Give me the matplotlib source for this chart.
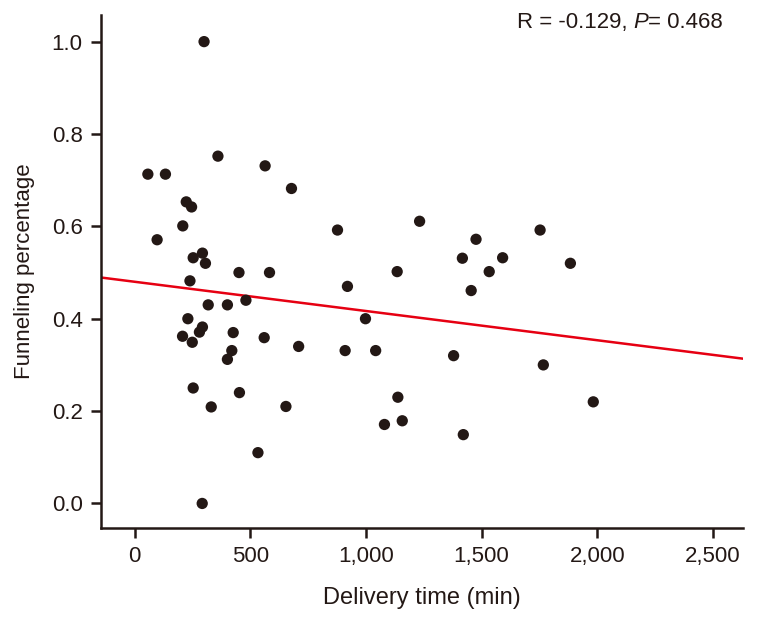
import matplotlib.pyplot as plt
import matplotlib.ticker as mticker
import numpy as np

# delivery time (min) and funneling percentage
delivery_time = [300, 57, 133, 360, 564, 678, 223, 246, 208, 97,
                 877, 1232, 253, 293, 306, 451, 583, 1135, 239, 920,
                 318, 401, 481, 230, 998, 293, 280, 207, 249, 426,
                 560, 709, 420, 401, 910, 1042, 253, 453, 331, 654,
                 1138, 1080, 1157, 533, 292, 1476, 1753, 1417, 1591, 1884,
                 1533, 1455, 1379, 1767, 1421, 1983]
funneling = [1.00, 0.713, 0.713, 0.752, 0.731, 0.682, 0.653, 0.642, 0.601, 0.571,
             0.592, 0.611, 0.532, 0.542, 0.520, 0.500, 0.500, 0.502, 0.482, 0.470,
             0.430, 0.430, 0.440, 0.400, 0.400, 0.382, 0.371, 0.362, 0.349, 0.370,
             0.359, 0.340, 0.331, 0.312, 0.331, 0.331, 0.250, 0.240, 0.209, 0.210,
             0.230, 0.171, 0.179, 0.110, 0.000, 0.572, 0.592, 0.531, 0.532, 0.520,
             0.502, 0.461, 0.320, 0.300, 0.149, 0.220]

# regression line as drawn in the figure
fit_intercept = 0.480
fit_slope = -6.33e-5

x_ticks = [0, 500, 1000, 1500, 2000, 2500]
y_ticks = [0.0, 0.2, 0.4, 0.6, 0.8, 1.0]

ink = '#231815'
plt.rcParams['font.family'] = ['Liberation Sans', 'DejaVu Sans']

fig = plt.figure(figsize=(7.57, 6.18), dpi=100)
ax = fig.add_axes([0.133, 0.145, 0.849, 0.831])

xlim = (-147, 2632)
ax.set_xlim(*xlim)
ax.set_ylim(-0.054, 1.058)

xs = np.array(xlim)
ax.plot(xs, fit_intercept + fit_slope * xs, color='#e60012', lw=1.8, zorder=2)
ax.scatter(delivery_time, funneling, s=66, color=ink, edgecolors='none', zorder=3)

ax.set_xticks(x_ticks)
ax.set_yticks(y_ticks)
ax.xaxis.set_major_formatter(mticker.FuncFormatter(lambda v, p: f'{int(v):,}'))
ax.yaxis.set_major_formatter(mticker.FormatStrFormatter('%.1f'))
ax.tick_params(direction='out', length=7, width=1.8, labelsize=16, pad=6,
               color=ink, labelcolor=ink)

for s in ['top', 'right']:
    ax.spines[s].set_visible(False)
for s in ['left', 'bottom']:
    ax.spines[s].set_linewidth(1.8)
    ax.spines[s].set_color(ink)

ax.set_xlabel('Delivery time (min)', fontsize=17, labelpad=14, color=ink)
ax.set_ylabel('Funneling percentage', fontsize=16, labelpad=12, color=ink)

# stats text, P in italics
t1 = fig.text(517 / 757, 1 - 28 / 618, 'R = -0.129, ', fontsize=16, ha='left',
              va='baseline', color=ink)
t2 = ax.annotate('P', xy=(1, 0), xycoords=t1, fontsize=16, style='italic',
                 va='bottom', ha='left', color=ink)
ax.annotate('= 0.468', xy=(1, 0), xycoords=t2, fontsize=16,
            va='bottom', ha='left', color=ink)

fig.savefig('out.png', dpi=100)
